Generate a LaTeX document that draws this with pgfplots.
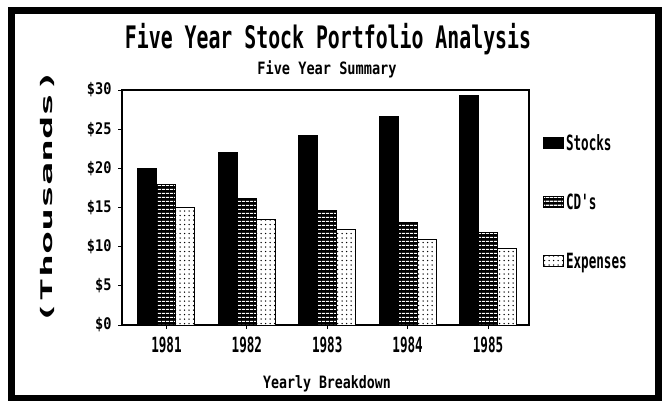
\documentclass[border=0pt]{standalone}
\usepackage{pgfplots}
\pgfplotsset{compat=1.18}
\usetikzlibrary{patterns.meta}
\usepackage{fontspec}
\setmainfont{DejaVu Sans Mono}
\newfontfamily\titlefont{DejaVu Sans Mono}[FakeStretch=0.64]
\newfontfamily\subfont{DejaVu Sans Mono}[FakeStretch=0.8]
\newfontfamily\tickfont{DejaVu Sans Mono}[FakeStretch=0.85]
\newfontfamily\yearfont{DejaVu Sans Mono}[FakeStretch=0.6]
\newfontfamily\legfont{DejaVu Sans Mono}[FakeStretch=0.6]
\newfontfamily\xlabfont{DejaVu Sans Mono}[FakeStretch=0.78]
\newfontfamily\ylabfont{DejaVu Sans Mono}[FakeStretch=2.4]
\begin{document}
\begin{tikzpicture}[x=1pt,y=1pt]
\useasboundingbox (0,0) rectangle (664,400);
\fill[white] (0,0) rectangle (664,400);
\draw[line width=7pt] (11.5,2) rectangle (658,389);
\begin{axis}[
  at={(122pt,75pt)}, anchor=south west,
  scale only axis, width=407pt, height=235pt,
  xmin=-0.553, xmax=4.51, ymin=0, ymax=30,
  ybar=0pt, bar width=19pt,
  ytick={0,5,10,15,20,25,30},
  yticklabels={\$0,\$5,\$10,\$15,\$20,\$25,\$30},
  xtick={0,1,2,3,4},
  xticklabels={1981,1982,1983,1984,1985},
  xtick pos=bottom, ytick pos=left,
  tick align=outside, major tick length=4pt,
  tick style={black, line width=0.8pt},
  axis line style={line width=1.3pt},
  yticklabel style={font=\tickfont\bfseries\fontsize{16}{16}\selectfont, xshift=-3pt},
  xticklabel style={font=\yearfont\bfseries\fontsize{21}{21}\selectfont, yshift=-4pt},
  legend style={at={(1.034,0.523)}, anchor=west, draw=none, fill=none,
    row sep=38pt, inner sep=0pt,
    font=\legfont\bfseries\fontsize{21}{21}\selectfont},
  legend cell align=left,
  legend image code/.code={\draw[#1] (0pt,-5.5pt) rectangle (20pt,5.5pt);},
]
\addplot[draw=black, line width=1pt, fill=black] coordinates {(0,20) (1,22) (2,24.2) (3,26.6) (4,29.3)};
\addplot[draw=black, line width=1pt, fill=black,
  postaction={pattern={Lines[angle=0,distance=4pt,line width=1.4pt]}, pattern color=white}]
  coordinates {(0,18) (1,16.2) (2,14.6) (3,13.1) (4,11.8)};
\addplot[draw=black, line width=1pt, fill=white,
  postaction={pattern={Dots[distance=4.5pt,radius=0.75pt]}, pattern color=black}]
  coordinates {(0,15) (1,13.5) (2,12.2) (3,10.9) (4,9.8)};
\legend{Stocks,CD's,Expenses}
\end{axis}
\node[anchor=base, font=\titlefont\bfseries\fontsize{31}{31}\selectfont] at (328,352) {Five Year Stock Portfolio Analysis};
\node[anchor=base, font=\subfont\bfseries\fontsize{17}{17}\selectfont] at (327,326) {Five Year Summary};
\node[anchor=base, font=\xlabfont\bfseries\fontsize{17}{17}\selectfont] at (327,12) {Yearly Breakdown};
\node[rotate=90, font=\ylabfont\bfseries\fontsize{16}{16}\selectfont] at (47,203) {(Thousands)};
\end{tikzpicture}
\end{document}
